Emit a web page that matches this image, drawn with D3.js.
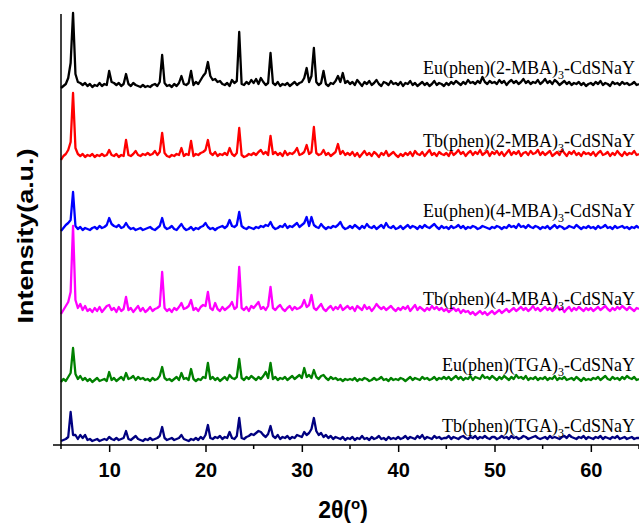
<!DOCTYPE html>
<html>
<head>
<meta charset="utf-8">
<script src="https://cdn.jsdelivr.net/npm/d3@7"></script>
<style>
  html, body { margin: 0; padding: 0; background: #fff; }
  svg { display: block; }
</style>
</head>
<body>
<svg id="chart" width="639" height="526"></svg>
<script>
// ---------- DATA ----------
const thetaStart = 5;      // 2θ of first sample
const thetaStep = 0.25;    // sampling step (degrees)
const xTicks = [10, 20, 30, 40, 50, 60];

const labelPrefix = ["Eu(phen)(2-MBA)", "Tb(phen)(2-MBA)", "Eu(phen)(4-MBA)", "Tb(phen)(4-MBA)", "Eu(phen)(TGA)", "Tb(phen)(TGA)"];
const labelSub = "3";
const labelSuffix = "-CdSNaY";
const seriesOffsets = [357, 287, 215, 131, 63, 4];
const seriesColors = ["#000000", "#ff0000", "#0000ff", "#ff00ff", "#008000", "#000080"];

// intensities (a.u.) above each pattern's own baseline, 2θ = 5.00, 5.25, ... 65.00
const euMBA2 = [
  0,2,4,10,25,75,14,6,5,3,5,2,4,1,3,2,5,2,4,3,
  17,6,5,3,5,2,4,14,4,2,5,3,2,1,3,1,2,1,3,4,
  2,6,33,5,2,3,1,4,2,5,12,4,3,5,17,3,6,4,8,12,
  15,26,12,8,9,6,7,4,3,5,2,8,5,7,56,4,3,6,4,8,
  5,9,4,10,6,3,5,35,5,3,6,2,4,3,5,2,4,6,3,5,
  6,10,20,6,12,40,6,3,5,17,4,2,5,4,7,12,6,15,5,7,
  4,6,3,8,5,2,6,4,7,3,5,8,4,2,6,5,3,7,4,5,
  3,6,2,5,4,7,3,5,2,4,6,3,5,2,4,7,3,5,4,2,
  5,3,6,4,7,5,3,6,4,8,5,6,4,7,5,11,6,4,7,5,
  6,4,8,5,7,3,6,8,5,7,4,6,9,5,7,4,6,5,8,4,
  6,9,5,7,4,8,6,3,5,7,4,6,3,5,4,6,3,5,2,4,
  5,3,6,4,7,3,5,4,2,6,4,5,3,6,4,5,3,4,6,3,
  4
];
const tbMBA2 = [
  -2,2,4,8,16,65,10,4,2,4,1,3,2,4,1,3,2,4,2,3,
  8,3,2,4,1,3,2,18,3,2,4,7,3,2,4,3,5,3,4,7,
  3,6,25,5,2,1,3,2,4,3,10,2,4,3,17,2,4,3,5,6,
  8,18,5,3,6,2,4,3,5,3,10,4,2,5,30,3,1,2,4,3,
  5,3,6,8,4,6,3,22,4,6,3,5,2,7,3,5,4,6,10,3,
  4,6,13,4,6,31,5,3,4,8,3,5,2,4,6,14,4,7,3,5,
  3,6,2,5,1,4,7,3,5,2,6,4,1,5,3,7,2,4,6,3,
  1,4,2,5,3,6,2,7,4,3,6,2,5,8,3,5,2,6,4,3,
  5,2,7,3,5,8,4,6,2,5,7,3,6,4,8,3,5,7,2,6,
  4,7,3,6,2,5,8,3,6,4,7,2,5,6,3,7,4,5,8,3,
  6,3,5,7,2,4,6,3,8,5,2,6,4,7,3,5,2,6,4,5,
  3,6,2,5,7,3,4,6,2,5,3,7,4,2,6,3,5,4,7,3,
  4
];
const euMBA4 = [
  -1,2,5,7,10,38,4,1,3,0,2,1,0,2,3,1,4,2,3,5,
  12,6,4,3,5,2,3,7,3,1,2,0,1,2,0,1,2,3,1,0,
  2,4,12,3,1,2,4,1,0,3,6,2,0,1,3,0,2,1,3,4,
  7,3,1,2,0,2,3,4,2,4,10,4,3,5,18,4,2,1,3,2,
  1,3,2,4,3,5,4,8,3,1,2,4,3,6,2,4,3,5,7,3,
  5,7,13,4,13,5,3,2,6,3,1,3,2,4,3,5,8,3,1,2,
  4,2,5,3,1,4,2,6,3,2,4,1,3,5,2,7,3,2,4,1,
  2,4,1,3,5,2,4,3,1,4,2,5,3,2,4,6,3,1,4,2,
  3,1,4,2,3,5,2,4,1,3,2,4,3,1,2,4,3,2,1,3,
  2,4,3,1,3,2,5,3,4,2,6,3,4,2,5,3,2,4,3,1,
  3,2,4,1,3,5,2,4,3,1,2,4,3,2,5,3,1,3,2,4,
  2,3,1,4,2,3,5,2,3,1,4,2,3,4,2,3,1,3,2,4,
  2
];
const tbMBA4 = [
  0,4,8,12,22,88,14,6,10,4,8,3,5,2,6,3,7,2,5,8,
  9,4,6,2,7,3,5,17,4,6,2,5,8,3,6,2,4,7,3,5,
  6,8,42,6,3,5,2,6,4,7,11,5,6,8,14,4,6,3,7,9,
  8,22,6,4,11,5,3,7,4,6,8,12,5,7,47,6,4,7,3,8,
  6,9,12,5,7,4,8,27,6,4,7,9,5,3,6,8,4,7,5,6,
  8,14,7,9,19,6,4,7,10,5,3,6,8,4,7,5,9,4,6,8,
  5,7,3,8,6,4,9,5,7,3,6,10,7,5,7,4,6,8,5,3,
  6,4,7,5,8,3,6,9,4,7,5,3,6,4,8,5,7,4,6,3,
  5,2,4,6,3,5,1,4,2,3,0,2,-1,1,3,0,2,-1,1,3,
  0,2,4,1,3,5,2,4,6,3,5,7,4,6,3,5,8,4,6,3,
  5,7,4,6,3,5,8,4,6,2,5,7,3,6,4,7,5,3,6,4,
  6,3,5,7,4,6,8,5,3,6,4,7,5,8,6,4,7,5,3,6,
  5
];
const euTGA = [
  0,3,1,5,9,34,8,3,6,2,4,1,3,0,2,4,1,2,3,1,
  10,2,4,1,3,5,2,9,3,4,6,2,5,3,4,2,3,1,4,2,
  3,6,15,4,2,3,1,3,5,2,9,3,4,2,13,3,1,3,2,5,
  4,19,3,5,2,4,1,3,5,2,7,4,3,5,23,4,2,5,3,6,
  4,2,5,3,6,10,4,19,3,5,2,4,3,5,2,4,6,3,5,7,
  4,14,5,7,4,12,5,3,6,7,4,2,5,3,4,2,3,1,3,2,
  3,2,4,1,3,2,4,3,1,2,4,2,3,5,2,3,1,4,2,3,
  2,4,3,1,3,5,2,4,3,2,5,3,4,2,3,5,2,4,3,5,
  3,5,2,4,6,3,5,2,4,3,6,2,5,4,3,7,4,5,3,6,
  4,2,5,3,6,4,2,5,3,7,4,5,3,6,2,4,3,5,2,4,
  3,5,2,4,3,6,2,4,3,5,2,3,4,2,5,3,1,4,2,3,
  2,4,3,5,2,4,6,3,2,5,3,4,2,5,3,6,4,3,5,2,
  3
];
const tbTGA = [
  0,1,2,4,29,6,6,2,6,3,6,1,2,0,1,2,0,1,2,1,
  4,2,1,3,1,2,3,10,2,1,3,5,2,1,0,2,1,3,1,2,
  3,5,14,3,1,2,3,1,2,3,6,2,1,0,2,1,3,1,4,2,
  6,16,3,2,4,3,5,2,4,3,9,3,2,5,23,3,2,4,5,7,
  6,8,10,9,6,4,7,15,5,3,6,2,4,3,5,2,4,3,6,5,
  4,9,6,8,12,23,10,6,8,4,6,3,5,2,4,3,2,4,1,3,
  2,4,1,3,2,5,2,3,1,4,2,3,5,2,3,1,4,2,3,2,
  4,2,3,5,2,4,3,2,5,3,6,2,4,3,2,5,3,4,2,3,
  3,5,2,4,3,2,4,5,3,2,4,3,5,2,4,3,5,3,2,4,
  4,2,3,5,3,4,2,5,3,4,2,3,5,4,2,3,4,5,3,2,
  3,4,2,5,3,4,3,2,4,5,3,6,4,3,2,4,3,5,2,4,
  3,2,4,3,5,2,4,3,2,4,3,5,2,3,4,2,3,4,2,3,
  3
];
const seriesValues = [euMBA2, tbMBA2, euMBA4, tbMBA4, euTGA, tbTGA];
const labelBaselines = [74, 146.5, 216.5, 305, 370.5, 432];

// ---------- CHART ----------
const svg = d3.select("#chart");
const x = d3.scaleLinear().domain([5, 65]).range([61, 639]);
const y = d3.scaleLinear().domain([0, 431]).range([445, 14]);

// series
seriesValues.forEach((vals, k) => {
  const line = d3.line()
    .x((d, i) => x(thetaStart + i * thetaStep))
    .y(d => y(seriesOffsets[k] + d));
  svg.append("path")
    .datum(vals)
    .attr("fill", "none")
    .attr("stroke", seriesColors[k])
    .attr("stroke-width", 2.3)
    .attr("stroke-linejoin", "round")
    .attr("d", line);
});

// x axis: major ticks with labels, minor ticks between
const axisG = svg.append("g").attr("transform", `translate(0,${y(0)})`);
const xAxis = d3.axisBottom(x).tickValues(xTicks).tickSize(7).tickPadding(11).tickFormat(d3.format("d"));
axisG.call(xAxis);
axisG.select(".domain").remove();
axisG.selectAll(".tick line").attr("stroke", "#000").attr("stroke-width", 1.5);
axisG.selectAll(".tick text")
  .attr("font-family", "Liberation Sans, Arial, sans-serif")
  .attr("font-weight", "bold")
  .attr("font-size", 20)
  .attr("fill", "#000");
const minorTicks = d3.range(5, 66, 10);
axisG.selectAll(".minor").data(minorTicks).enter().append("line")
  .attr("x1", d => x(d)).attr("x2", d => x(d))
  .attr("y1", 0).attr("y2", 4)
  .attr("stroke", "#000").attr("stroke-width", 1.5);
axisG.append("line")
  .attr("x1", 53).attr("x2", 639).attr("y1", 0).attr("y2", 0)
  .attr("stroke", "#000").attr("stroke-width", 1.5);

// y axis line (no ticks)
svg.append("line")
  .attr("x1", x(5)).attr("x2", x(5))
  .attr("y1", y(431)).attr("y2", y(0))
  .attr("stroke", "#000").attr("stroke-width", 1.5);

// series labels
labelPrefix.forEach((p, k) => {
  const t = svg.append("text")
    .attr("x", 635).attr("y", labelBaselines[k])
    .attr("text-anchor", "end")
    .attr("font-family", "Liberation Serif, 'Times New Roman', serif")
    .attr("font-size", 18)
    .attr("fill", "#000");
  t.append("tspan").text(p);
  t.append("tspan").attr("font-size", 12).attr("dy", 5).text(labelSub);
  t.append("tspan").attr("dy", -5).text(labelSuffix);
});

// axis titles
const xt = svg.append("text")
  .attr("x", 343).attr("y", 518)
  .attr("text-anchor", "middle")
  .attr("font-family", "Liberation Sans, Arial, sans-serif")
  .attr("font-weight", "bold")
  .attr("font-size", 23)
  .attr("fill", "#000");
xt.append("tspan").text("2θ(");
xt.append("tspan").attr("font-size", 15).attr("dy", -9).text("o");
xt.append("tspan").attr("dy", 9).text(")");

svg.append("text")
  .attr("transform", "translate(33,236) rotate(-90)")
  .attr("text-anchor", "middle")
  .attr("font-family", "Liberation Sans, Arial, sans-serif")
  .attr("font-weight", "bold")
  .attr("font-size", 22)
  .attr("textLength", 175)
  .attr("lengthAdjust", "spacingAndGlyphs")
  .attr("fill", "#000")
  .text("Intensity(a.u.)");
</script>
</body>
</html>
